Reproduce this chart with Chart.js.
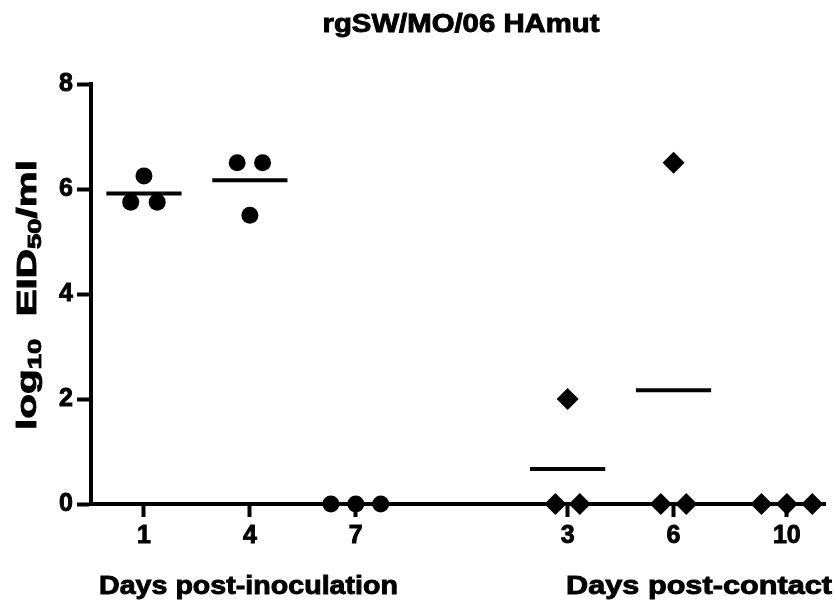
<!DOCTYPE html>
<html>
<head>
<meta charset="utf-8">
<script src="https://cdn.jsdelivr.net/npm/chart.js@4.4.1/dist/chart.umd.min.js"></script>
<style>
  html, body { margin: 0; padding: 0; background: #fff; }
  #wrap { width: 836px; height: 607px; position: relative; }
</style>
</head>
<body>
<div id="wrap"><canvas id="chart"></canvas></div>
<script>
// days on the x axis (post-inoculation group, then post-contact group)
const dayLabels = ['1', '4', '7', '3', '6', '10'];
const daySlots = [1, 2, 3, 5, 6, 7.07];

// log10 EID50/ml per animal, left / middle / right in each column
const inoculatedValues = [
  [5.75, 6.25, 5.75],
  [6.5, 5.5, 6.5],
  [0, 0, 0]
];
const contactValues = [
  [0, 2, 0],
  [0, 6.5, 0],
  [0, 0, 0]
];

const yTicks = [0, 2, 4, 6, 8];
const titleText = 'rgSW/MO/06 HAmut';
const groupTitles = ['Days post-inoculation', 'Days post-contact'];

// horizontal spread of the symbols inside one column
const spread = [
  [-0.125, 0, 0.125],
  [-0.12, 0, 0.12],
  [-0.235, 0, 0.235],
  [-0.115, 0, 0.115],
  [-0.12, 0, 0.12],
  [-0.24, 0, 0.24]
];
const meanHalf = 0.355;
const FONT = '"Liberation Sans", Arial, Helvetica, sans-serif';

const allGroups = inoculatedValues.concat(contactValues);

function groupPoints(values, first) {
  const pts = [];
  values.forEach((vals, g) => {
    vals.forEach((v, i) => {
      pts.push({ x: daySlots[first + g] + spread[first + g][i], y: v });
    });
  });
  return pts;
}

function mean(vals) {
  return vals.reduce((a, b) => a + b, 0) / vals.length;
}

const meanSets = allGroups.map((vals, g) => {
  const m = mean(vals);
  return {
    type: 'line',
    data: [{ x: daySlots[g] - meanHalf, y: m }, { x: daySlots[g] + meanHalf, y: m }],
    borderColor: '#000',
    borderWidth: 4,
    pointRadius: 0,
    clip: false,
    order: 1
  };
});

function drawStretched(ctx, text, cx, baseline, size, targetWidth) {
  ctx.save();
  ctx.font = 'bold ' + size + 'px ' + FONT;
  const w = ctx.measureText(text).width;
  ctx.translate(cx, baseline);
  ctx.scale(targetWidth / w, 1);
  ctx.textAlign = 'center';
  ctx.textBaseline = 'alphabetic';
  ctx.fillStyle = '#000';
  ctx.strokeStyle = '#000';
  ctx.lineWidth = 0.9;
  ctx.fillText(text, 0, 0);
  ctx.strokeText(text, 0, 0);
  ctx.restore();
}

const textPlugin = {
  id: 'textPlugin',
  afterDraw(chart) {
    const ctx = chart.ctx;
    drawStretched(ctx, titleText, 461, 32, 25, 277);
    drawStretched(ctx, groupTitles[0], 248.5, 594, 26, 299);
    drawStretched(ctx, groupTitles[1], 699, 594, 26, 266);

    // rotated y title with subscripts
    const parts = [['log', false], ['10', true], ['  EID', false], ['50', true], ['/ml', false]];
    const big = 'bold 28px ' + FONT;
    const small = 'bold 19px ' + FONT;
    ctx.save();
    let total = 0;
    const widths = parts.map(([t, sub]) => {
      ctx.font = sub ? small : big;
      const w = ctx.measureText(t).width;
      total += w;
      return w;
    });
    const sx = 270 / total;
    ctx.translate(36, 295);
    ctx.rotate(-Math.PI / 2);
    ctx.scale(sx, 1);
    ctx.fillStyle = '#000';
    ctx.strokeStyle = '#000';
    ctx.lineWidth = 0.9;
    ctx.textBaseline = 'alphabetic';
    ctx.textAlign = 'left';
    let x = -total / 2;
    parts.forEach(([t, sub], i) => {
      ctx.font = sub ? small : big;
      ctx.fillText(t, x, sub ? 5 : 0);
      ctx.strokeText(t, x, sub ? 5 : 0);
      x += widths[i];
    });
    ctx.restore();
  }
};

const tickFont = { family: FONT, size: 25, weight: 'bold' };

new Chart(document.getElementById('chart'), {
  data: {
    datasets: [
      {
        type: 'scatter',
        data: groupPoints(inoculatedValues, 0),
        pointStyle: 'circle',
        pointRadius: 8.5,
        pointHoverRadius: 8.5,
        backgroundColor: '#000',
        borderColor: '#000',
        borderWidth: 0,
        clip: false,
        order: 0
      },
      {
        type: 'scatter',
        data: groupPoints(contactValues, 3),
        pointStyle: 'rectRot',
        pointRadius: 11,
        pointHoverRadius: 11,
        backgroundColor: '#000',
        borderColor: '#000',
        borderWidth: 0,
        clip: false,
        order: 0
      }
    ].concat(meanSets)
  },
  options: {
    responsive: true,
    maintainAspectRatio: false,
    animation: false,
    events: [],
    layout: { padding: { top: 84, right: 0, left: 0, bottom: 0 } },
    plugins: {
      legend: { display: false },
      title: { display: false },
      tooltip: { enabled: false }
    },
    scales: {
      x: {
        type: 'linear',
        min: 0.5,
        max: 7.43,
        afterBuildTicks: (scale) => {
          scale.ticks = daySlots.map((v) => ({ value: v }));
        },
        afterFit: (scale) => { scale.height = 103; },
        ticks: {
          autoSkip: false,
          maxRotation: 0,
          padding: 4,
          color: '#000',
          textStrokeColor: '#000',
          textStrokeWidth: 0.9,
          font: tickFont,
          callback: (value, index) => dayLabels[index]
        },
        grid: {
          drawOnChartArea: false,
          drawTicks: true,
          tickLength: 13,
          tickWidth: 4,
          tickColor: '#000'
        },
        border: { display: true, color: '#000', width: 4 }
      },
      y: {
        min: 0,
        max: 8,
        afterBuildTicks: (scale) => {
          scale.ticks = yTicks.map((v) => ({ value: v }));
        },
        afterFit: (scale) => { scale.width = 91; },
        ticks: {
          padding: 4,
          color: '#000',
          textStrokeColor: '#000',
          textStrokeWidth: 0.9,
          font: tickFont
        },
        grid: {
          drawOnChartArea: false,
          drawTicks: true,
          tickLength: 14,
          tickWidth: 4,
          tickColor: '#000'
        },
        border: { display: true, color: '#000', width: 4 }
      }
    }
  },
  plugins: [textPlugin]
});
</script>
</body>
</html>
